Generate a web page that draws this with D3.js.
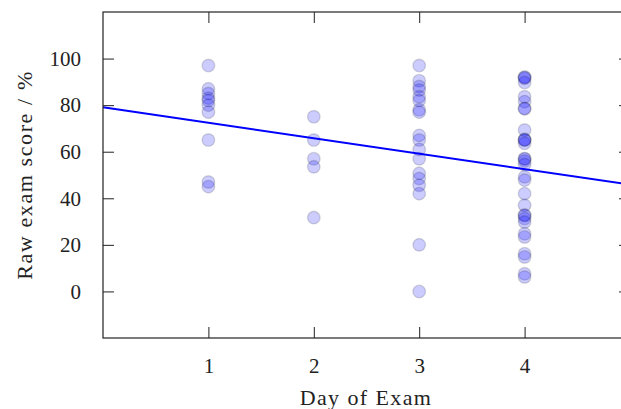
<!DOCTYPE html>
<html>
<head>
<meta charset="utf-8">
<script src="https://cdn.jsdelivr.net/npm/d3@7"></script>
<style>
  body { margin: 0; background: #fff; }
  svg { display: block; }
  text { font-family: "Liberation Serif", serif; fill: #222; }
</style>
</head>
<body>
<script>
var width = 621,
  height = 409,
  margin = { left: 103, top: 12, right: -9, bottom: 71 };

// scores, one list per exam day
var days = [1, 2, 3, 4];
var day1Scores = [97, 87, 85, 83, 82, 80, 77, 65, 47, 45];
var day2Scores = [75, 65, 57, 53.5, 31.7];
var day3Scores = [97, 90.5, 88, 86.5, 83.6, 82, 78, 77, 67, 65, 61, 57, 50.7, 48.5, 45.6, 42, 20, 0];
var day4Scores = [92, 92, 91.5, 89.7, 83.6, 81.5, 78.6, 78.4, 69.3, 65.3, 65, 65, 63.6, 57, 57, 56, 54.5,
  49.2, 47.8, 42, 37, 32.7, 32.7, 31.3, 29.8, 24.8, 23.4, 16.2, 14.8, 7.6, 6.2];
var yTicks = [0, 20, 40, 60, 80, 100];

// least squares fit as drawn
var fitIntercept = 79.1,
  fitSlope = -6.64;

var points = [];
[day1Scores, day2Scores, day3Scores, day4Scores].forEach((scores, i) => {
  scores.forEach((s) => points.push({ day: days[i], score: s }));
});

var svg = d3
  .select("body")
  .append("svg")
  .attr("width", width)
  .attr("height", height);

var xScale = d3
  .scaleLinear()
  .domain([0, 5])
  .range([margin.left, width - margin.right]);

var yScale = d3
  .scaleLinear()
  .domain([-20, 120])
  .range([height - margin.bottom, margin.top]);

var tickLen = 11;

// points
svg
  .append("g")
  .selectAll("circle")
  .data(points)
  .enter()
  .append("circle")
  .attr("cx", (d) => xScale(d.day))
  .attr("cy", (d) => yScale(d.score))
  .attr("r", 6.3)
  .attr("fill", "blue")
  .attr("fill-opacity", 0.2)
  .attr("stroke", "#000")
  .attr("stroke-opacity", 0.14)
  .attr("stroke-width", 1.4);

// fit line
var line = d3
  .line()
  .x((d) => xScale(d))
  .y((d) => yScale(fitIntercept + fitSlope * d));

svg
  .append("path")
  .datum(xScale.domain())
  .attr("d", line)
  .attr("fill", "none")
  .attr("stroke", "#0000ff")
  .attr("stroke-width", 2);

// axes, with mirrored ticks on top and right
var xAxis = d3.axisBottom(xScale).tickValues(days).tickSize(-tickLen).tickPadding(20).tickFormat(d3.format("d"));
var xAxisTop = d3.axisTop(xScale).tickValues(days).tickSize(-tickLen).tickFormat("");
var yAxis = d3.axisLeft(yScale).tickValues(yTicks).tickSize(-tickLen).tickPadding(22);
var yAxisRight = d3.axisRight(yScale).tickValues(yTicks).tickSize(-tickLen).tickFormat("");

function style(g) {
  g.select(".domain").remove();
  g.selectAll(".tick line").attr("stroke", "#222").attr("stroke-width", 1);
  g.selectAll(".tick text").style("font-size", "21px").attr("fill", "#222");
}

svg
  .append("g")
  .attr("transform", `translate(0,${height - margin.bottom})`)
  .call(xAxis)
  .call(style);

svg
  .append("g")
  .attr("transform", `translate(0,${margin.top})`)
  .call(xAxisTop)
  .call(style);

svg
  .append("g")
  .attr("transform", `translate(${margin.left},0)`)
  .call(yAxis)
  .call(style);

svg
  .append("g")
  .attr("transform", `translate(${width - margin.right},0)`)
  .call(yAxisRight)
  .call(style);

// frame
svg
  .append("rect")
  .attr("x", margin.left)
  .attr("y", margin.top)
  .attr("width", width - margin.right - margin.left)
  .attr("height", height - margin.bottom - margin.top)
  .attr("fill", "none")
  .attr("stroke", "#222")
  .attr("stroke-width", 1.2);

// axis titles
svg
  .append("text")
  .attr("x", 366)
  .attr("y", 405)
  .attr("text-anchor", "middle")
  .style("font-size", "22px")
  .style("letter-spacing", "1.4px")
  .text("Day of Exam");

svg
  .append("text")
  .attr("transform", `translate(32,175) rotate(-90)`)
  .attr("text-anchor", "middle")
  .style("font-size", "22px")
  .style("letter-spacing", "1.6px")
  .text("Raw exam score / %");
</script>
</body>
</html>
